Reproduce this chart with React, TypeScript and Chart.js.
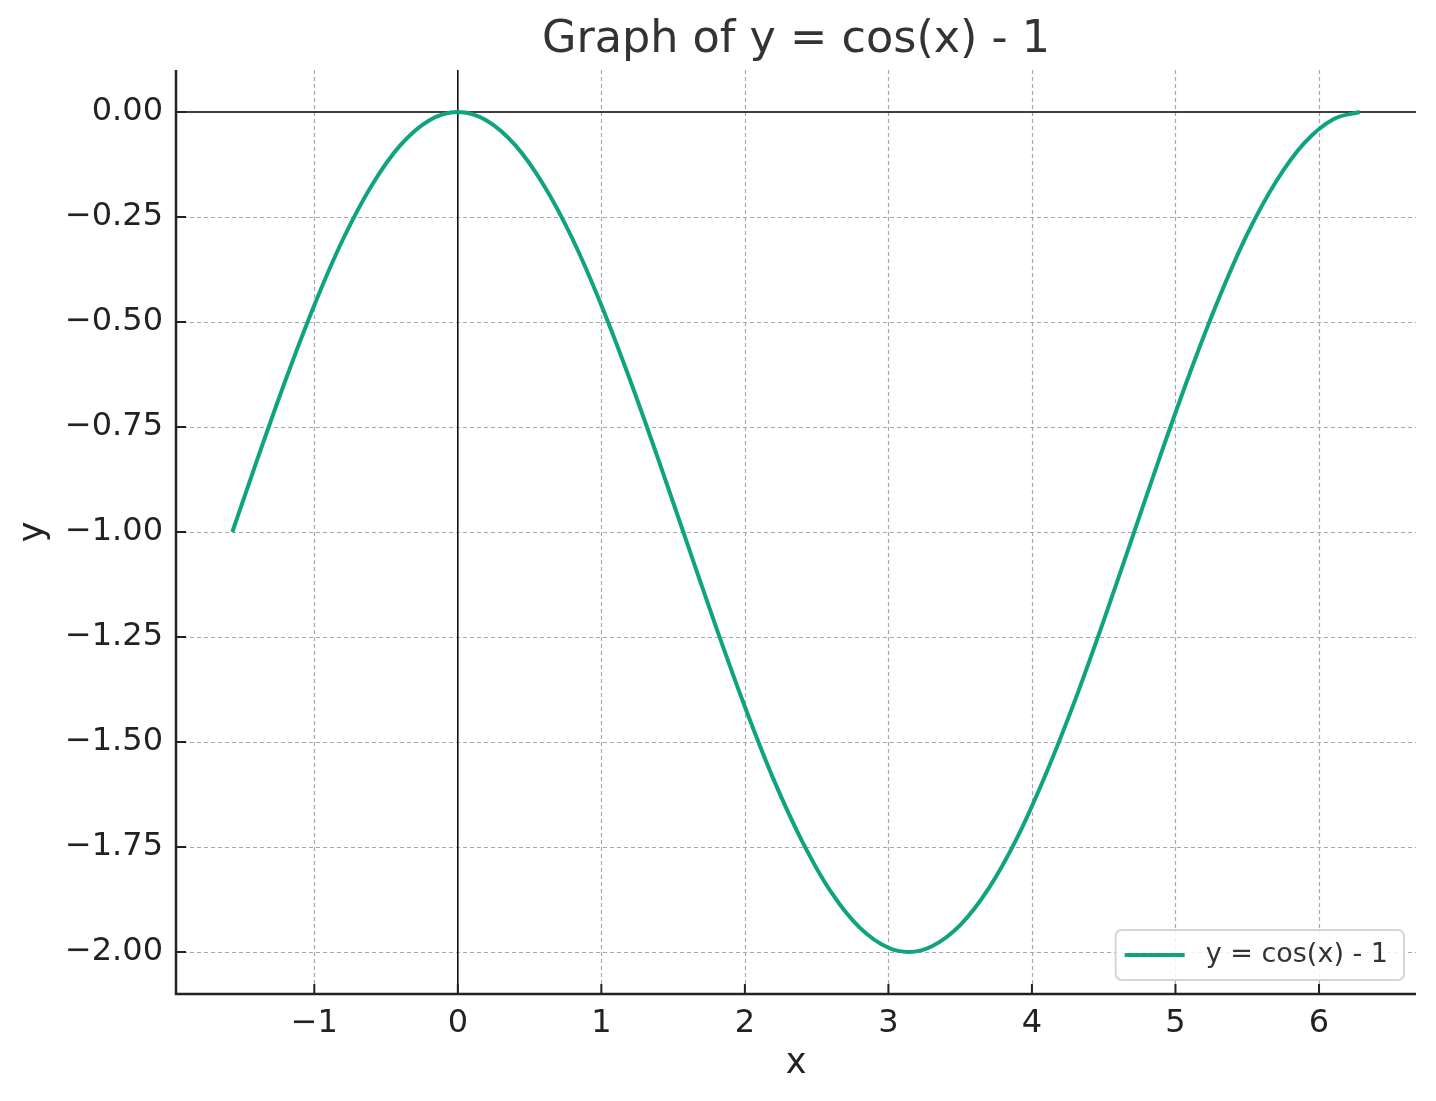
import React, { useEffect, useRef } from 'react';
import { Chart, registerables } from 'chart.js';

Chart.register(...registerables);

const titleText = 'Graph of y = cos(x) - 1';
const seriesLabel = 'y = cos(x) - 1';
const xAxisLabel = 'x';
const yAxisLabel = 'y';

const xValues = [
  -1.571, -1.4, -1.2, -1.0, -0.8, -0.6, -0.4, -0.2, 0.0, 0.2, 0.4, 0.6, 0.8, 1.0,
  1.2, 1.4, 1.6, 1.8, 2.0, 2.2, 2.4, 2.6, 2.8, 3.0, 3.142, 3.3, 3.5, 3.7, 3.9, 4.1,
  4.3, 4.5, 4.7, 4.9, 5.1, 5.3, 5.5, 5.7, 5.9, 6.1, 6.283,
];
const yValues = [
  -1.0, -0.83, -0.638, -0.46, -0.303, -0.175, -0.079, -0.02, 0.0, -0.02, -0.079, -0.175, -0.303, -0.46,
  -0.638, -0.83, -1.029, -1.227, -1.416, -1.589, -1.737, -1.857, -1.942, -1.99, -2.0, -1.987, -1.936, -1.848, -1.726, -1.574,
  -1.401, -1.211, -1.012, -0.813, -0.622, -0.446, -0.291, -0.166, -0.073, -0.017, 0.0,
];

const xTicks = [-1, 0, 1, 2, 3, 4, 5, 6];
const xTickLabels = ['\u22121', '0', '1', '2', '3', '4', '5', '6'];
const yTicks = [0, -0.25, -0.5, -0.75, -1.0, -1.25, -1.5, -1.75, -2.0];
const yTickLabels = ['0.00', '\u22120.25', '\u22120.50', '\u22120.75', '\u22121.00', '\u22121.25', '\u22121.50', '\u22121.75', '\u22122.00'];

const X_MIN = -1.9635;
const X_MAX = 6.6759;
const Y_MIN = -2.1;
const Y_MAX = 0.1;

const LINE_COLOR = '#10a37f';
const TEXT_COLOR = '#222222';
const FONT = 'DejaVu Sans';

const decorPlugin = {
  id: 'decor',
  beforeDatasetsDraw(chart: any) {
    const { ctx, chartArea, scales } = chart;
    const { left, right, top, bottom } = chartArea;
    const xs = scales.x;
    const ys = scales.y;
    ctx.save();
    ctx.strokeStyle = '#a8a8a8';
    ctx.lineWidth = 1.2;
    ctx.setLineDash([4, 3]);
    xTicks.forEach((v) => {
      if (v === 0) return;
      const px = Math.round(xs.getPixelForValue(v)) + 0.5;
      ctx.beginPath();
      ctx.moveTo(px, top);
      ctx.lineTo(px, bottom);
      ctx.stroke();
    });
    yTicks.forEach((v) => {
      if (v === 0) return;
      const py = Math.round(ys.getPixelForValue(v)) + 0.5;
      ctx.beginPath();
      ctx.moveTo(left, py);
      ctx.lineTo(right, py);
      ctx.stroke();
    });
    ctx.setLineDash([]);
    ctx.strokeStyle = '#000000';
    ctx.lineWidth = 1.5;
    const x0 = xs.getPixelForValue(0);
    const y0 = ys.getPixelForValue(0);
    ctx.beginPath();
    ctx.moveTo(x0, top);
    ctx.lineTo(x0, bottom);
    ctx.stroke();
    ctx.beginPath();
    ctx.moveTo(left, y0);
    ctx.lineTo(right, y0);
    ctx.stroke();
    ctx.restore();
  },
  afterDatasetsDraw(chart: any) {
    const { ctx, chartArea, scales } = chart;
    const { left, right, top, bottom } = chartArea;
    const xs = scales.x;
    const ys = scales.y;
    ctx.save();
    ctx.strokeStyle = TEXT_COLOR;
    ctx.lineWidth = 2.5;
    ctx.beginPath();
    ctx.moveTo(left, top);
    ctx.lineTo(left, bottom);
    ctx.lineTo(right, bottom);
    ctx.stroke();
    ctx.lineWidth = 2;
    xTicks.forEach((v) => {
      const px = xs.getPixelForValue(v);
      ctx.beginPath();
      ctx.moveTo(px, bottom);
      ctx.lineTo(px, bottom - 10);
      ctx.stroke();
    });
    yTicks.forEach((v) => {
      const py = ys.getPixelForValue(v);
      ctx.beginPath();
      ctx.moveTo(left, py);
      ctx.lineTo(left + 10, py);
      ctx.stroke();
    });
    ctx.restore();
  },
  afterDraw(chart: any) {
    const { ctx, chartArea } = chart;
    const ds = chart.data.datasets[0];
    ctx.save();
    ctx.font = `27px "${FONT}"`;
    const tw = ctx.measureText(ds.label).width;
    const padL = 9;
    const sample = 60;
    const gap = 21;
    const padR = 16;
    const w = padL + sample + gap + tw + padR;
    const h = 50;
    const x1 = chartArea.right - 12;
    const y1 = chartArea.bottom - 14;
    const x0 = x1 - w;
    const y0 = y1 - h;
    ctx.beginPath();
    ctx.roundRect(x0, y0, w, h, 6);
    ctx.fillStyle = 'rgba(255,255,255,0.85)';
    ctx.fill();
    ctx.strokeStyle = '#d5d5d5';
    ctx.lineWidth = 2;
    ctx.stroke();
    const cy = y0 + h / 2;
    ctx.strokeStyle = ds.borderColor;
    ctx.lineWidth = 4;
    ctx.beginPath();
    ctx.moveTo(x0 + padL, cy);
    ctx.lineTo(x0 + padL + sample, cy);
    ctx.stroke();
    ctx.fillStyle = '#333333';
    ctx.textBaseline = 'middle';
    ctx.textAlign = 'left';
    ctx.fillText(ds.label, x0 + padL + sample + gap, cy);
    ctx.restore();
  },
};

export default function App() {
  const canvasRef = useRef<HTMLCanvasElement | null>(null);

  useEffect(() => {
    document.body.style.margin = '0';
    const canvas = canvasRef.current;
    if (!canvas) return;
    const points = xValues.map((x, i) => ({ x, y: yValues[i] }));
    const chart = new Chart(canvas, {
      type: 'line',
      data: {
        datasets: [
          {
            label: seriesLabel,
            data: points,
            borderColor: LINE_COLOR,
            backgroundColor: LINE_COLOR,
            borderWidth: 4,
            pointRadius: 0,
            fill: false,
            cubicInterpolationMode: 'monotone',
          },
        ],
      },
      options: {
        animation: false,
        responsive: true,
        maintainAspectRatio: false,
        devicePixelRatio: 1,
        layout: { padding: { left: 0, right: 20, top: 0, bottom: 0 } },
        plugins: {
          legend: { display: false },
          tooltip: { enabled: false },
          title: {
            display: true,
            fullSize: false,
            text: titleText,
            color: '#333333',
            font: { family: FONT, size: 44.5, weight: 'normal', lineHeight: 1.2 },
            padding: { top: 14, bottom: 2.6 },
          },
        },
        scales: {
          x: {
            type: 'linear',
            min: X_MIN,
            max: X_MAX,
            afterBuildTicks: (scale: any) => {
              scale.ticks = xTicks.map((v) => ({ value: v }));
            },
            afterFit: (scale: any) => {
              scale.height = 107;
            },
            grid: { display: false },
            border: { display: false },
            ticks: {
              color: TEXT_COLOR,
              font: { family: FONT, size: 32 },
              padding: 2,
              maxRotation: 0,
              autoSkip: false,
              callback: (value: any) => {
                const i = xTicks.indexOf(Number(value));
                return i >= 0 ? xTickLabels[i] : '';
              },
            },
            title: {
              display: true,
              text: xAxisLabel,
              color: TEXT_COLOR,
              font: { family: FONT, size: 35, lineHeight: 1.2 },
              padding: { top: 0, bottom: 16 },
            },
          },
          y: {
            type: 'linear',
            min: Y_MIN,
            max: Y_MAX,
            afterBuildTicks: (scale: any) => {
              scale.ticks = yTicks.map((v) => ({ value: v }));
            },
            afterFit: (scale: any) => {
              scale.width = 176;
            },
            grid: { display: false },
            border: { display: false },
            ticks: {
              color: TEXT_COLOR,
              font: { family: FONT, size: 32 },
              padding: 5,
              autoSkip: false,
              callback: (value: any) => {
                const i = yTicks.findIndex((t) => Math.abs(t - Number(value)) < 1e-9);
                return i >= 0 ? yTickLabels[i] : '';
              },
            },
            title: {
              display: true,
              text: yAxisLabel,
              color: TEXT_COLOR,
              font: { family: FONT, size: 35, lineHeight: 1.2 },
              padding: { top: 13, bottom: 0 },
            },
          },
        },
      },
      plugins: [decorPlugin],
    } as any);
    return () => {
      chart.destroy();
    };
  }, []);

  return (
    <div style={{ width: 1436, height: 1101, position: 'relative', background: '#ffffff' }}>
      <canvas ref={canvasRef} />
    </div>
  );
}
